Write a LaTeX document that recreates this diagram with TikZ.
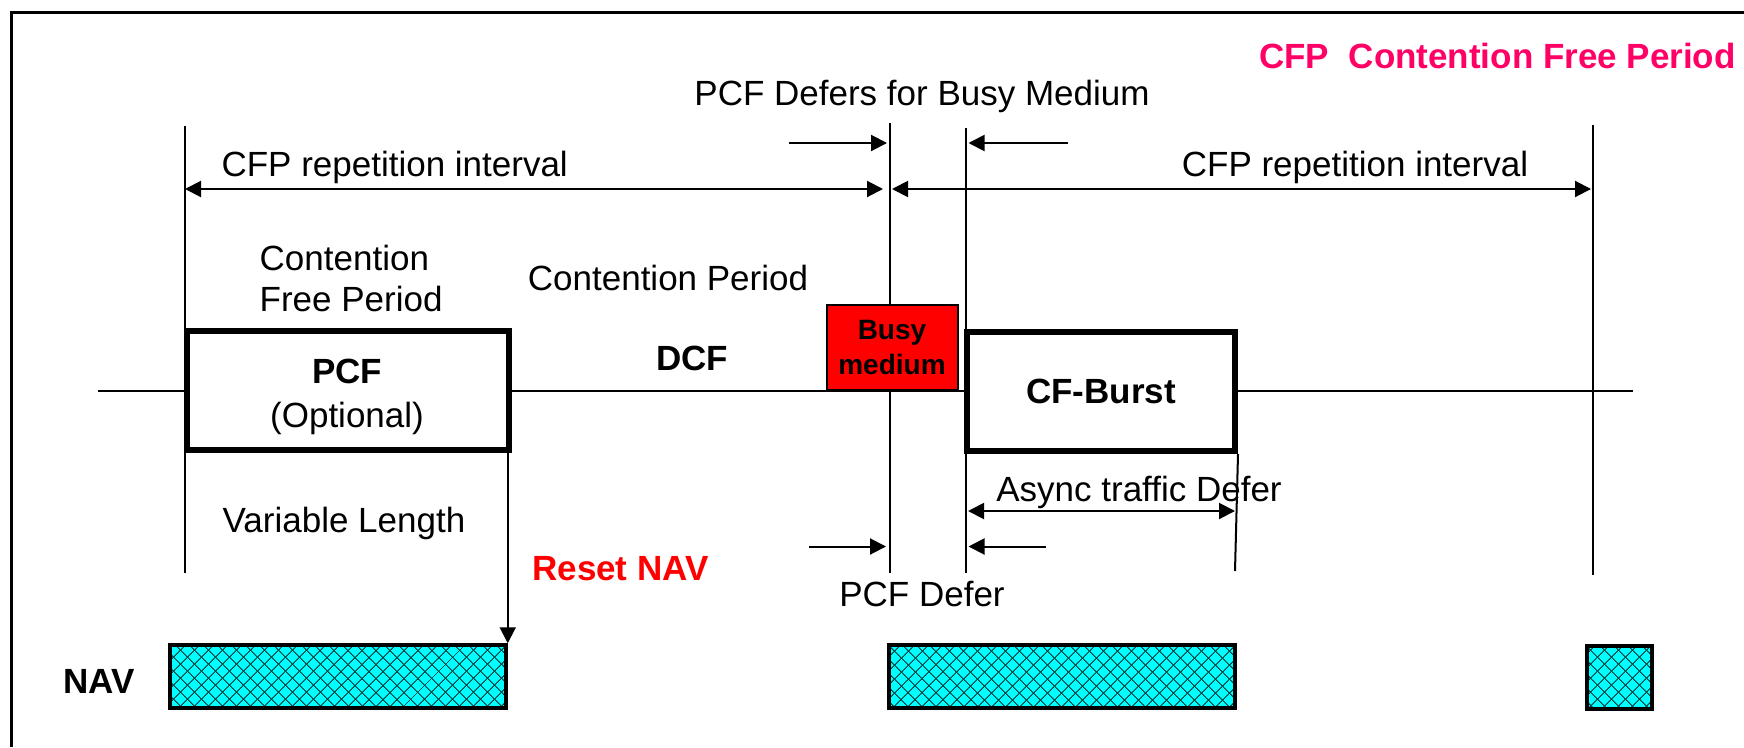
\documentclass[tikz,border=0pt]{standalone}
\usepackage{fontspec}
\setmainfont{Liberation Sans}
\usetikzlibrary{arrows.meta,patterns.meta}
\pgfdeclarelayer{bg}
\pgfsetlayers{bg,main}
\definecolor{cfpink}{RGB}{255,0,102}
\definecolor{navfill}{RGB}{0,255,255}
\definecolor{navhatch}{RGB}{0,70,70}
\definecolor{busyred}{RGB}{255,0,0}

\begin{document}
\begin{tikzpicture}[x=1pt,y=-1pt,
  thinline/.style={line width=2pt},
  arr/.style={thinline,-{Triangle[length=16pt,width=16pt]}},
  darr/.style={thinline,{Triangle[length=16pt,width=16pt]}-{Triangle[length=16pt,width=16pt]}},
  lbl/.style={anchor=base,inner sep=0pt,font=\fontsize{35}{42}\selectfont},
  blbl/.style={lbl,font=\fontsize{35}{42}\selectfont\bfseries},
  phasebox/.style={draw,line width=6pt,fill=white,inner sep=0pt},
  busybox/.style={draw,line width=2pt,fill=busyred,inner sep=0pt,align=center,
    font=\fontsize{28}{35}\selectfont\bfseries},
  navbox/.style={draw,line width=3.5pt,inner sep=0pt,
    preaction={fill=navfill},
    preaction={pattern={Lines[angle=45,distance=10.5pt,line width=1.1pt]},pattern color=navhatch},
    preaction={pattern={Lines[angle=-45,distance=10.5pt,line width=1.1pt]},pattern color=navhatch}}
]
\useasboundingbox (0,0) rectangle (1744,747);

% outer frame (top and left edges)
\draw[line width=3pt] (11.5,747) -- (11.5,12) -- (1744,12);

% medium timeline and boundary markers
\coordinate (lineL) at (98,391);
\coordinate (lineR) at (1633,391);
\coordinate (v0t) at (185,126);  \coordinate (v0b) at (185,573);
\coordinate (v1t) at (890,123);  \coordinate (v1b) at (890,573);
\coordinate (v2t) at (966,128);  \coordinate (v2b) at (966,573);
\coordinate (v3t) at (1593,125); \coordinate (v3b) at (1593,575);
\coordinate (v4b) at (1235,571);

% phase boxes
\node[phasebox,minimum width=322pt,minimum height=119pt] (pcf) at (348,390.5) {};
\node[phasebox,minimum width=268pt,minimum height=119pt,
      font=\fontsize{35}{42}\selectfont\bfseries] (cfb) at (1101,391.5) {CF-Burst};
\node[busybox,minimum width=131pt,minimum height=85pt] (busy) at (892,347.2) {Busy\\medium};

% NAV boxes
\node[navbox,minimum width=336pt,minimum height=63pt] (nav1) at (338,676.5) {};
\node[navbox,minimum width=346pt,minimum height=63pt] (nav2) at (1062,676.5) {};
\node[navbox,minimum width=65pt,minimum height=63pt] (nav3) at (1619.5,677.5) {};

\begin{pgfonlayer}{bg}
  \draw[thinline] (lineL) -- (lineR);
  \draw[thinline] (v0t) -- (v0b);
  \draw[thinline] (v1t) -- (v1b);
  \draw[thinline] (v2t) -- (v2b);
  \draw[thinline] (v3t) -- (v3b);
  \draw[thinline] (cfb.south east) -- (v4b);
\end{pgfonlayer}

% reset NAV arrow
\draw[arr] (pcf.south east -| nav1.north east) -- (nav1.north east);

% CFP repetition intervals
\coordinate (r1a) at (185,189); \coordinate (r1b) at (883,189);
\coordinate (r2a) at (892,189); \coordinate (r2b) at (1591,189);
\draw[darr] (r1a) -- (r1b);
\draw[darr] (r2a) -- (r2b);

% PCF defers for busy medium
\coordinate (d1a) at (789,143);  \coordinate (d1b) at (887,143);
\coordinate (d2a) at (1068,143); \coordinate (d2b) at (968.5,143);
\draw[arr] (d1a) -- (d1b);
\draw[arr] (d2a) -- (d2b);

% async traffic defer
\coordinate (a1) at (968,511); \coordinate (a2) at (1235,511);
\draw[darr] (a1) -- (a2);

% PCF defer
\coordinate (p1a) at (809,546.5);  \coordinate (p1b) at (886,546.5);
\coordinate (p2a) at (1046,546.5); \coordinate (p2b) at (968.5,546.5);
\draw[arr] (p1a) -- (p1b);
\draw[arr] (p2a) -- (p2b);

% labels
\node[blbl,text=cfpink] (title) at (1497.5,68.5) {CFP~~Contention Free Period};
\node[lbl] (defbusy) at (922,105) {PCF Defers for Busy Medium};
\node[lbl] (rep1) at (394.7,176.5) {CFP repetition interval};
\node[lbl] (rep2) at (1355,176.5) {CFP repetition interval};
\node[lbl,anchor=base west] (cfpA) at (259.5,270) {Contention};
\node[lbl,anchor=base west] (cfpB) at (259.5,311) {Free Period};
\node[lbl] (cp) at (668,290.5) {Contention Period};
\node[blbl] (dcf) at (692,370) {DCF};
\node[blbl] (pcfname) at (347,383) {PCF};
\node[lbl] (pcfopt) at (347,427) {(Optional)};
\node[lbl] (varlen) at (344,532) {Variable Length};
\node[blbl,text=busyred] (reset) at (620.5,580) {Reset NAV};
\node[lbl] (async) at (1139,501.7) {Async traffic Defer};
\node[lbl] (pcfdef) at (922,606) {PCF Defer};
\node[blbl] (navlbl) at (98.8,693) {NAV};
\end{tikzpicture}
\end{document}
